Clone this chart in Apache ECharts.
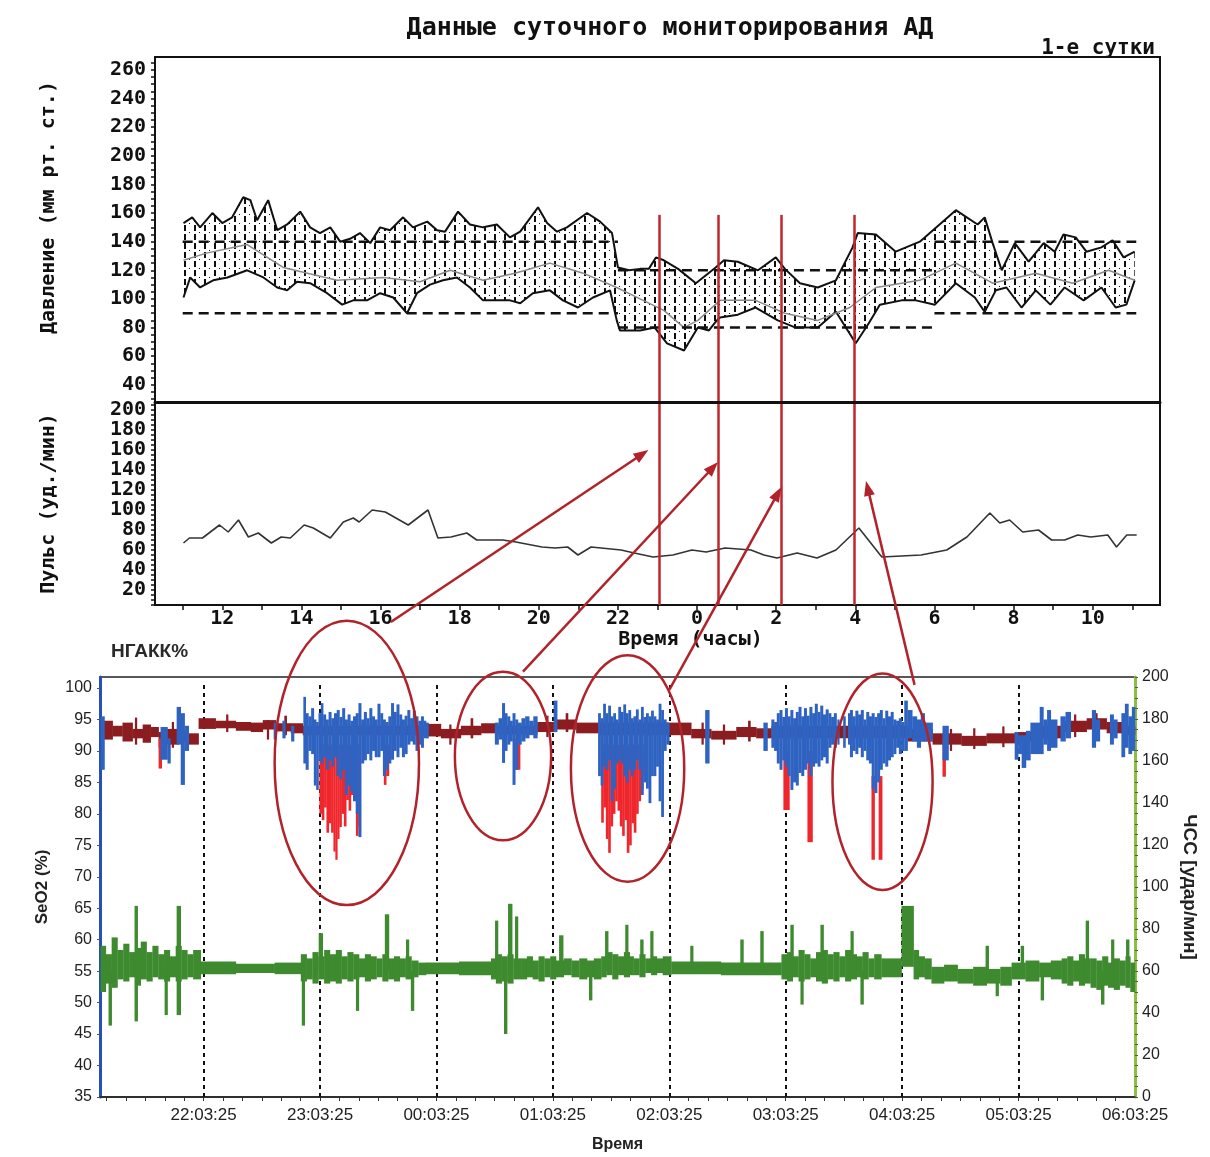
<!DOCTYPE html>
<html><head><meta charset="utf-8">
<script src="https://cdn.jsdelivr.net/npm/echarts@6/dist/echarts.min.js"></script>
<style>html,body{margin:0;padding:0;background:#fff}#c{width:1210px;height:1157px}</style>
</head><body><div id="c"></div>
<script>
// ---------------- texts ----------------
const chartTitle = 'Данные суточного мониторирования АД';
const dayLabel = '1-е сутки';
const pressureAxisName = 'Давление (мм рт. ст.)';
const pulseAxisName = 'Пульс (уд./мин)';
const hoursAxisName = 'Время (часы)';
const spo2Label = 'НГАКК%';
const spo2AxisName = 'SeO2 (%)';
const hrAxisName = 'ЧСС [удар/мин]';
const timeAxisName = 'Время';

// ---------------- tick labels ----------------
const hourTicks = [12,14,16,18,20,22,24,26,28,30,32,34];
const pressureTicks = [40,60,80,100,120,140,160,180,200,220,240,260];
const pulseTicks = [20,40,60,80,100,120,140,160,180,200];
const spo2Ticks = [35,40,45,50,55,60,65,70,75,80,85,90,95,100];
const hrTicks = [0,20,40,60,80,100,120,140,160,180,200];
const bottomTickLabels = ['22:03:25','23:03:25','00:03:25','01:03:25','02:03:25','03:03:25','04:03:25','05:03:25','06:03:25'];
const bottomRange = ['21:10:00','06:03:25'];

// ---------------- ABPM (top), time in hours from midnight of day 1 ----------------
const systolic = [[11.02,153],[11.24,157],[11.44,150],[11.75,160],[12.00,153],[12.25,157],[12.53,171],[12.71,169],[12.88,155],[13.16,169],[13.39,148],[13.64,152],[13.97,161],[14.22,150],[14.47,146],[14.73,150],[14.98,140],[15.23,142],[15.48,146],[15.74,139],[15.99,150],[16.24,148],[16.57,157],[16.82,150],[17.18,154],[17.43,148],[17.63,147],[17.96,161],[18.26,152],[18.59,150],[18.94,152],[19.27,143],[19.53,147],[19.98,164],[20.21,153],[20.46,147],[20.71,150],[21.22,160],[21.55,154],[21.85,146],[22.00,122],[22.28,120],[22.56,121],[22.78,121],[22.96,129],[23.16,127],[23.52,121],[23.97,111],[24.47,122],[24.68,127],[25.03,126],[25.54,120],[25.99,129],[26.22,121],[26.60,111],[27.05,108],[27.51,113],[27.93,136],[28.06,146],[28.52,145],[29.02,133],[29.63,140],[30.54,162],[31.09,152],[31.27,157],[31.47,139],[31.70,120],[32.03,139],[32.38,126],[32.76,139],[33.04,133],[33.26,145],[33.57,143],[33.84,133],[34.22,136],[34.50,141],[34.78,129],[35.06,133]];
const diastolic = [[11.02,101],[11.19,115],[11.44,108],[11.77,113],[12.13,115],[12.63,120],[13.04,115],[13.39,108],[13.64,106],[13.89,112],[14.22,111],[14.65,104],[15.03,96],[15.31,99],[15.66,99],[15.99,104],[16.32,101],[16.67,90],[16.92,104],[17.25,110],[17.58,113],[17.93,115],[18.26,108],[18.59,99],[18.94,99],[19.27,99],[19.53,97],[19.85,104],[20.28,106],[20.61,99],[20.99,94],[21.37,101],[21.80,106],[21.97,85],[22.05,78],[22.56,78],[22.93,80],[23.24,69],[23.67,64],[24.02,80],[24.30,78],[24.47,84],[24.58,87],[25.03,89],[25.48,94],[26.04,85],[26.49,80],[27.05,80],[27.51,91],[28.01,69],[28.34,83],[28.62,96],[29.17,99],[29.53,99],[30.01,96],[30.54,111],[31.02,101],[31.27,91],[31.55,106],[31.82,108],[32.20,94],[32.56,106],[32.93,96],[33.29,108],[33.77,99],[34.22,108],[34.58,94],[34.85,96],[35.06,113]];
const meanPressure = [[11.02,127],[11.6,132],[12.63,138],[13.54,122],[14.9,113],[16.07,115],[17.0,112],[17.76,120],[18.59,113],[19.4,118],[20.28,125],[21.12,118],[21.97,108],[22.56,100],[23.16,92],[23.67,80],[24.02,85],[24.58,99],[25.48,99],[26.22,90],[27.05,85],[27.86,94],[28.52,108],[29.63,113],[30.54,125],[31.47,111],[32.56,118],[33.49,111],[34.40,120],[35.06,113]];
const bpLimits = [[11,22,140,90],[22,30,120,80],[30,35.1,140,90]]; // from, to, upper, lower
const pulse = [[11.02,67],[11.17,72],[11.50,72],[11.93,85],[12.15,78],[12.41,90],[12.66,73],[12.91,77],[13.24,67],[13.49,73],[13.72,72],[14.07,85],[14.30,82],[14.73,72],[15.06,88],[15.31,92],[15.46,88],[15.79,100],[16.12,98],[16.70,85],[17.20,100],[17.45,72],[17.78,73],[18.18,77],[18.43,70],[19.09,70],[19.42,68],[20.08,63],[20.41,62],[20.73,63],[20.99,55],[21.32,63],[22.08,60],[22.41,57],[22.89,53],[23.39,55],[23.87,60],[24.23,58],[24.71,62],[25.36,60],[25.69,55],[26.02,52],[26.53,57],[27.03,52],[27.51,60],[28.09,82],[28.67,53],[29.66,55],[30.31,60],[30.82,73],[31.40,97],[31.65,87],[31.90,90],[32.23,78],[32.63,80],[32.96,70],[33.29,70],[33.62,75],[33.95,73],[34.38,75],[34.60,63],[34.86,75],[35.11,75]];
const redMarkerHours = [23.04, 24.53, 26.12, 27.98];
const redMarkerTop = 158.7;

// ---------------- Polysomnography (bottom), minutes since 21:00 : [from, to, low, high] ----------------
const spo2Base = [[11.8,16.5,91.8,94.8],[16.5,21.6,92.3,94.0],[21.6,26.8,91.5,94.5],[26.8,32.0,92.0,93.5],[32.0,36.1,91.3,94.2],[36.1,40.2,92.2,93.8],[40.2,43.8,90.5,93.0],[43.8,50.5,91.0,93.5],[50.5,55.7,91.5,93.2],[55.7,60.8,91.0,92.8],[60.8,69.6,93.5,95.2],[69.6,80.0,93.6,94.8],[80.0,87.7,93.2,94.6],[87.7,93.9,93.0,94.5],[93.9,100.6,93.4,94.9],[100.6,108.3,93.1,94.4],[108.3,114.5,92.8,94.4],[114.5,178.5,92.5,94.0],[178.5,185.7,92.3,94.3],[185.7,196.0,92.0,93.5],[196.0,206.4,92.5,94.0],[206.4,213.6,92.8,94.4],[213.6,235.3,92.6,94.0],[235.3,245.1,93.0,94.6],[245.1,255.4,93.4,95.0],[255.4,267.2,92.8,94.5],[267.2,302.3,92.5,94.5],[302.3,314.7,92.5,94.5],[314.7,325.0,92.0,93.5],[325.0,337.9,91.8,93.2],[337.9,348.2,92.2,93.8],[348.2,356.0,92.0,93.6],[356.0,426.2,92.0,94.0],[426.2,439.1,91.5,93.5],[439.1,454.0,91.0,92.8],[454.0,466.9,90.8,92.4],[466.9,481.4,91.2,92.8],[481.4,494.3,91.5,93.0],[494.3,505.6,92.0,94.0],[505.6,518.5,93.0,94.8],[518.5,528.8,93.4,95.2],[528.8,539.2,92.8,94.6],[539.2,543.4,92.5,94.0],
  [28,29,91,95.3],[47,48,90.5,94.6],[75,76,93,95.8],[96,97,91.8,94.9],[105,106.2,92.5,95.6],[190,191,91,94.2],[201,202.2,92,95.2],[240,241,92.2,95.6],[250,251.2,93,96],[320,321,91,94.5],[331,332,91,94.2],[344,345.2,91.5,94.8],[448,449,90,93.5],[460,461,90.3,93.6],[475,476,90.6,93.9],[512,513,92.2,95.8],[523,524,92.8,96]];
const spo2Red = [[40.2,41.8,87.2,92],
  [123.1,124.3,80.0,91],[124.3,125.5,79.0,91],[125.5,126.7,81.0,91],[126.7,127.9,77.0,91],[127.9,129.1,78.5,91],[129.1,130.3,77.0,91],[130.3,131.3,74.0,91],[131.3,132.3,72.7,91],[132.3,133.3,76.0,91],[133.3,134.5,77.9,91],[134.5,135.7,80.0,91],[135.7,136.9,78.0,91],[136.9,138.1,82.2,91],[138.1,139.3,80.5,91],[139.3,140.5,83.0,91],[141.9,143.1,76.5,91],[143.1,144.3,78.0,91],[156.3,157.5,84.6,91],[157.5,158.9,86.0,91],
  [223.4,226.5,87.0,92],
  [268.3,269.5,78.6,91],[269.5,270.7,81.0,91],[270.7,271.9,76.0,91],[271.9,273.1,73.8,91],[273.1,274.3,78.0,91],[274.3,275.5,80.0,91],[275.5,276.7,82.0,91],[276.7,277.9,80.5,91],[277.9,279.1,78.0,91],[279.1,280.3,76.5,91],[280.3,281.5,79.0,91],[281.5,282.7,73.8,91],[282.7,283.9,75.0,91],[283.9,285.1,78.5,91],[285.1,286.3,77.0,91],[286.3,287.5,80.0,91],[287.5,288.7,82.0,91],[288.7,290.0,84.0,91],[290.0,291.3,86.0,91],
  [362.2,365.3,80.6,90],[374.6,377.2,75.5,90],[407.6,409.2,72.7,86],[411.3,413.1,72.7,86],[444.2,445.8,85.9,92]];
const spo2Blue = [[10.3,12.3,87.0,95.5],[41.2,44.8,88.6,93.8],[44.8,46.3,88.0,92],[49.5,51.6,91.0,97.0],[51.6,53.6,84.6,96.0],[53.6,55.7,90.0,94.0],[99.5,100.8,91.8,94.5],[104,105.5,92.0,94.8],[108.5,110,91.5,94.0],
  [114.8,116.0,88.0,98.6],[116.0,117.4,87.0,96.0],[117.4,118.8,90.0,95.5],[118.8,120.2,89.5,96.8],[120.2,121.4,84.5,95.0],[121.4,122.6,83.8,94.6],[122.6,123.8,88.5,96.0],[123.8,125.0,88.0,97.6],[125.0,126.4,89.0,95.8],[126.4,127.8,87.0,95.0],[127.8,129.2,88.5,96.2],[129.2,130.6,87.5,95.2],[130.6,132.0,89.0,96.0],[132.0,133.4,86.0,96.5],[133.4,134.8,85.5,95.4],[134.8,136.2,87.0,96.8],[136.2,137.6,83.0,95.0],[137.6,139.0,84.5,95.8],[139.0,140.4,83.5,94.8],[140.4,141.8,82.0,95.5],[141.8,143.2,80.0,96.0],[143.2,144.6,76.3,97.6],[144.6,146.0,88.0,95.0],[146.0,147.4,88.5,96.2],[147.4,148.8,89.5,95.2],[148.8,150.2,88.5,96.8],[150.2,151.6,90.0,95.5],[151.6,153.0,89.0,95.0],[153.0,154.4,89.0,97.5],[154.4,155.8,90.0,96.0],[155.8,157.2,86.0,95.0],[157.2,158.6,87.0,94.6],[158.6,160.0,88.0,95.5],[160.0,161.4,88.6,97.6],[161.4,162.8,90.0,96.2],[162.8,164.2,89.0,97.4],[164.2,165.6,90.5,95.8],[165.6,167.0,89.0,95.0],[167.0,168.4,89.5,95.6],[168.4,169.8,91.0,96.5],[169.8,171.2,91.5,95.2],[171.2,172.6,91.0,96.4],[172.6,174.0,90.0,95.5],[174.0,175.4,91.0,94.8],[175.4,176.8,90.5,95.5],[176.8,178.0,92.0,94.8],[178.0,179.3,92.0,94.5],
  [213.5,215.4,91.0,94.5],[215.4,217.2,91.8,95.2],[217.2,218.6,88.1,97.6],[218.6,219.9,90.0,96.0],[219.9,221.3,91.0,95.5],[221.3,222.6,91.5,94.8],[222.6,224.0,84.6,96.0],[224.0,225.4,87.0,95.0],[225.4,227.2,91.0,94.5],[227.2,229.1,91.5,95.2],[229.1,231.2,92.0,95.5],[231.2,233.3,92.5,94.8],[233.3,235.4,92.0,95.5],[243.8,245.6,93.0,98.0],
  [266.7,268.0,86.0,96.0],[268.0,269.3,84.5,95.2],[269.3,270.6,87.5,97.5],[270.6,271.9,87.0,96.0],[271.9,273.2,88.5,97.2],[273.2,274.5,82.0,95.5],[274.5,275.8,84.0,96.0],[275.8,277.1,88.0,95.0],[277.1,278.4,88.5,97.0],[278.4,279.7,88.0,96.2],[279.7,281.0,86.0,97.4],[281.0,282.3,85.0,96.0],[282.3,283.6,87.0,96.5],[283.6,284.9,86.0,95.2],[284.9,286.2,87.0,95.5],[286.2,287.5,88.5,96.6],[287.5,288.8,87.0,95.0],[288.8,290.1,83.0,97.0],[290.1,291.4,85.0,95.4],[291.4,292.7,84.0,96.0],[292.7,294.0,81.7,95.5],[294.0,295.3,86.0,96.4],[295.3,296.6,86.0,95.5],[296.6,297.9,87.5,95.0],[297.9,299.2,82.0,97.5],[299.2,300.5,79.5,96.5],[300.5,301.9,90.0,95.0],[301.9,303.4,91.0,94.5],
  [321.9,324.0,88.0,96.5],[351.9,354.0,90.0,94.5],
  [356.0,357.4,90.5,95.0],[357.4,358.8,90.0,94.6],[358.8,360.2,88.0,96.0],[360.2,361.6,87.0,96.5],[361.6,363.0,88.5,95.4],[363.0,364.4,87.5,96.8],[364.4,365.8,86.0,95.5],[365.8,367.2,83.8,96.5],[367.2,368.6,85.0,95.2],[368.6,370.0,84.5,96.2],[370.0,371.4,86.5,97.0],[371.4,372.8,86.0,95.5],[372.8,374.2,87.0,96.8],[374.2,375.6,88.0,95.6],[375.6,377.0,86.0,97.0],[377.0,378.4,87.5,96.0],[378.4,379.8,88.0,97.5],[379.8,381.2,87.5,96.2],[381.2,382.6,88.5,97.2],[382.6,384.0,89.0,95.8],[384.0,385.4,88.0,96.6],[385.4,386.8,90.5,96.0],[386.8,388.2,91.0,95.4],[388.2,389.6,90.5,96.0],[390.0,391.0,91.0,95.0],[393.0,394.2,90.5,95.5],[395.5,396.5,91.0,96.0],
  [396.5,397.9,89.0,96.5],[397.9,399.3,90.0,95.5],[399.3,400.7,89.5,96.4],[400.7,402.1,90.5,95.8],[402.1,403.5,89.0,96.5],[403.5,404.9,90.0,95.0],[404.9,406.3,88.5,96.2],[406.3,407.7,88.0,95.5],[407.7,409.1,84.0,96.0],[409.1,410.5,83.3,95.4],[410.5,411.9,85.0,96.0],[411.9,413.3,87.0,96.5],[413.3,414.7,88.0,95.2],[414.7,416.1,87.5,96.4],[416.1,417.5,88.5,95.5],[417.5,418.9,89.0,96.2],[418.9,420.3,89.5,95.0],[420.3,421.7,90.5,94.8],[421.7,423.1,89.5,95.2],[423.1,424.5,90.0,94.6],[424.5,426.2,90.0,98.0],
  [426.2,428.6,92.0,96.5],[428.6,431.0,91.5,95.5],[431.0,433.0,90.5,95.0],[433.0,435.0,91.5,96.0],[435.0,439.1,91.5,94.5],[444.2,447.3,88.5,94.0],
  [481.4,483.2,88.6,93.0],[483.2,485.0,89.5,92.5],[485.0,487.2,87.3,92.5],[487.2,489.5,88.5,93.2],[489.5,494.3,89.5,94.5],
  [494.3,496.2,89.5,97.0],[496.2,498.1,91.0,95.0],[498.1,500.0,90.0,96.5],[500.0,503.3,90.5,95.0],[505.0,507.6,91.5,95.5],[507.6,510.3,92.0,96.2],[521.2,523.2,90.5,96.5],[523.2,525.3,91.5,95.0],[530.5,532.4,91.0,95.8],[532.4,534.3,92.0,95.0],[536.4,538.2,89.0,96.0],[538.2,540.0,90.5,97.5],[540.0,541.8,89.5,95.5],[541.8,543.4,90.0,97.0]];
const heartRate = [[10.3,13,50,72],[13,16,54,68],[16,19,52,76],[19,22,56,70],[22,25,55,73],[25,28,57,69],[28,31,53,71],[31,34,56,74],[34,37,55,69],[37,40,57,72],[40,43,56,68],[43,46,55,70],[46,49,57,67],[49,52,55,72],[52,55,56,70],[55,58,57,68],[58,61.9,56,70],
  [14.4,16,34,60],[27.8,29.4,36,91],[43.3,44.8,39,60],[49.5,51.6,39,91],
  [61.9,80,58.5,64.5],[80,100,59,63.5],[100,113.5,58.5,64],
  [113.5,116.5,55,68],[116.5,119.5,56,66],[119.5,122.5,54,69],[122.5,125.5,56,67],[125.5,128.5,54,70],[128.5,131.5,55,68],[131.5,134.5,54,70],[134.5,137.5,56,67],[137.5,140.5,55,69],[140.5,143.5,56,68],[143.5,146.5,57,66],[146.5,149.5,55,68],[149.5,152.5,56,67],[152.5,155.5,57,66],[155.5,158.5,55,68],[158.5,161.5,56,66],[161.5,164.5,55,67],[164.5,167.5,57,66],[167.5,170.5,56,67],[170.5,174,57,65],[174,178,58,64],
  [114,115.5,34,62],[122.7,124.8,60,78],[141.9,143.4,41,60],[156.8,158.9,60,87],[167.7,169.2,60,75],[170.2,171.8,41,60],
  [178,195,58.5,64],[195,211.5,58,64.5],
  [211.5,214,56,66],[214,217,54,68],[217,220,55,67],[220,223,54,68],[223,227,56,66],
  [213.6,215.1,60,84],[218.2,219.8,30,65],[220.3,222.4,60,92],[223.9,225.4,60,86],
  [227,230,56,66],[230,233,57,67],[233,236,56,65],[236,239,55,67],[239,242,57,66],[242,245,56,67],
  [245,249,57,65],[249,253,58,66],[253,257,57,65],[257,261,56,66],[261,264.5,57,65],[264.5,268.3,56,66],
  [246.6,248.7,60,77],[262,263.6,46,60],
  [268.3,271,57,67],[271,274,58,69],[274,277,56,68],[277,280,58,67],[280,283,57,69],[283,285,58,67],
  [285,288,58,66],[288,291,57,68],[291,294,59,66],[294,297,58,67],[297,300,59,66],[300,304.4,58,67],
  [270.3,271.9,60,79],[280.7,282.2,60,82],[288.4,290,60,75],[293.6,295.1,60,79],
  [304.4,330,58.5,64.5],[330,361.2,58,64],[314.2,315.7,60,72],[340,341.6,60,75],[350.3,351.9,60,79],
  [361.2,364,56,68],[364,367,55,69],[367,370,57,67],[370,373,55,70],[373,376,56,68],[376,379,57,66],[379,382,55,69],[382,385,54,70],[385,388,56,68],[388,391,55,69],[391,394,57,67],[394,397,55,70],[397,400,56,68],[400,403,57,67],[403,406,56,69],[406,409,57,66],[409,412.7,56,68],
  [365.8,367.4,60,82],[371,372.5,44,60],[381.3,382.9,60,82],[396.8,398.3,60,79],[401.9,403.5,44,60],
  [412.7,423.1,57,66],[423.1,429.3,62,91],[429.3,432,56,70],[432,435,57,67],[435,438.5,56,66],
  [438.5,445,54,62],[445,452,55,63],[452,460,54,61],[460,467,53,62],[467,474,54,61],[474,479.8,53,62],[466.4,468,60,72],[471.6,473.1,48,60],
  [479.8,487,56,64],[487,494,55,65],[494,500,57,64],[500,505.6,56,65],[484.5,486.1,60,72],[494.8,496.4,46,60],
  [505.6,508.5,54,66],[508.5,511.5,53,67],[511.5,514.5,55,65],[514.5,517.5,53,68],[517.5,520.5,54,66],[520.5,523.5,52,66],[523.5,526.5,51,65],[526.5,529.5,53,67],[529.5,532.5,52,64],[532.5,535.5,51,66],[535.5,538.5,53,65],[538.5,541,52,67],[541,543.4,50,64],
  [518,519.6,60,84],[525.9,527.5,44,60],[531.1,532.6,60,75],[538.8,540.4,60,75]];

// annotations: ellipses [centre minute, centre SpO2, half-width minutes, half-height SpO2]
const ellipses = [[137.2,88.1,37.2,22.6],[217.7,89.2,24.8,13.4],[281.9,87.2,29.2,18.0],[413.3,85.1,25.8,17.2]];
// arrows: start on bottom chart [minute, SpO2], end on pulse panel [hour, bpm]
const arrowStarts = [[159.9,110.5],[228.0,102.6],[303.4,99.7],[429.8,100.5]];
const arrowEnds = [[22.77,160],[24.53,148],[26.13,123],[28.27,129]];

// ---------------- helpers ----------------
function toMin(label) {
  const p = label.split(':').map(Number);
  const h = p[0] < 12 ? p[0] + 24 : p[0];
  return (h - 21) * 60 + p[1] + (p[2] || 0) / 60;
}
const bottomTickMinutes = bottomTickLabels.map(toMin);
function range(a, b, s) { const r = []; for (let v = a; v <= b + 1e-9; v += s) r.push(+v.toFixed(3)); return r; }

function makeHatch() {
  const c = document.createElement('canvas');
  c.width = 10; c.height = 9;
  const g = c.getContext('2d');
  g.fillStyle = '#ffffff'; g.fillRect(0, 0, 10, 9);
  g.fillStyle = '#0d0d0d';
  g.fillRect(4, 0, 2, 6);
  g.fillRect(9, 7, 1, 1);
  return c;
}
const hatchPattern = { image: makeHatch(), repeat: 'repeat' };

const monoFont = "'DejaVu Sans Mono', monospace";
const sansFont = "'Liberation Sans', Arial, sans-serif";
const topText = { fontFamily: monoFont, fontWeight: 'bold', fontSize: 20, color: '#111' };
const botText = { fontFamily: sansFont, fontSize: 16, color: '#222' };

function blockSeries(data, yAxisIndex, color, z) {
  return {
    type: 'custom', xAxisIndex: 2, yAxisIndex: yAxisIndex, z: z, silent: true,
    data: data, encode: { x: [0, 1], y: [2, 3] },
    renderItem: function (params, api) {
      const a = api.coord([api.value(0), api.value(3)]);
      const b = api.coord([api.value(1), api.value(2)]);
      let x = a[0], w = b[0] - a[0];
      if (w < 1.8) { x -= (1.8 - w) / 2; w = 1.8; }
      return { type: 'rect', shape: { x: x, y: a[1], width: w + 0.3, height: Math.max(b[1] - a[1], 1.5) }, style: { fill: color } };
    }
  };
}

const limitSeries = [];
bpLimits.forEach(function (l) {
  [l[2], l[3]].forEach(function (v) {
    limitSeries.push({ type: 'line', xAxisIndex: 0, yAxisIndex: 0, z: 5, silent: true, symbol: 'none',
      data: [[l[0], v], [l[1], v]], lineStyle: { color: '#111', width: 2.5, type: [10, 6] } });
  });
});

const redMarkLine = function (top, bottom) {
  return { silent: true, symbol: ['none', 'none'], z: 10, label: { show: false },
    lineStyle: { color: '#c0262c', width: 2.5, type: 'solid' },
    data: redMarkerHours.map(function (t) { return [{ coord: [t, top] }, { coord: [t, bottom] }]; }) };
};

const chart = echarts.init(document.getElementById('c'), null, { renderer: 'canvas' });
const option = {
  animation: false,
  backgroundColor: '#fff',
  title: [
    { text: chartTitle, left: 665, top: 11, textAlign: 'center', textStyle: { fontFamily: monoFont, fontWeight: 'bold', fontSize: 25, color: '#111' } },
    { text: dayLabel, right: 50, top: 33, textStyle: { fontFamily: monoFont, fontWeight: 'bold', fontSize: 21, color: '#111' } },
    { text: spo2Label, left: 106, top: 637, textStyle: { fontFamily: sansFont, fontWeight: 'bold', fontSize: 19, color: '#2a2a2a' } }
  ],
  grid: [
    { left: 155, top: 57, width: 1005, height: 345, show: true, borderColor: '#111', borderWidth: 2, backgroundColor: 'transparent', outerBoundsMode: 'none' },
    { left: 155, top: 402, width: 1005, height: 203, show: true, borderColor: '#111', borderWidth: 2, backgroundColor: 'transparent', outerBoundsMode: 'none' },
    { left: 100, top: 677, width: 1035, height: 420, show: true, borderColor: '#222', borderWidth: 1.5, backgroundColor: 'transparent', outerBoundsMode: 'none' }
  ],
  xAxis: [
    { gridIndex: 0, type: 'value', min: 10.3, max: 35.7, z: 20,
      axisLine: { show: true, lineStyle: { color: '#111', width: 3 } }, axisTick: { show: false }, axisLabel: { show: false }, splitLine: { show: false } },
    { gridIndex: 1, type: 'value', min: 10.3, max: 35.7,
      axisLine: { show: true, lineStyle: { color: '#111', width: 2 } },
      axisTick: { show: true, length: 5, customValues: range(11, 35, 1), lineStyle: { color: '#111', width: 1.5 } },
      axisLabel: Object.assign({ margin: 4, customValues: hourTicks, formatter: function (v) { return String(Math.round(v) % 24); } }, topText),
      splitLine: { show: false },
      name: hoursAxisName, nameLocation: 'middle', nameGap: 20,
      nameTextStyle: Object.assign({ padding: [0, 0, 0, 66] }, topText) },
    { gridIndex: 2, type: 'value', min: toMin(bottomRange[0]), max: toMin(bottomRange[1]),
      axisLine: { show: true, lineStyle: { color: '#222', width: 1.5 } },
      axisTick: { show: true, length: 4, customValues: range(bottomTickMinutes[0] - 50, bottomTickMinutes[8], 10), lineStyle: { color: '#333' } },
      axisLabel: Object.assign({}, botText, { fontSize: 17, margin: 10, customValues: bottomTickMinutes, formatter: function (v) {
        let best = 0; bottomTickMinutes.forEach(function (m, i) { if (Math.abs(m - v) < Math.abs(bottomTickMinutes[best] - v)) best = i; });
        return bottomTickLabels[best]; } }),
      splitLine: { show: false },
      name: timeAxisName, nameLocation: 'middle', nameGap: 40,
      nameTextStyle: { fontFamily: sansFont, fontWeight: 'bold', fontSize: 16, color: '#222' } }
  ],
  yAxis: [
    { gridIndex: 0, type: 'value', min: 28, max: 269,
      axisLine: { show: true, lineStyle: { color: '#111', width: 2 } },
      axisTick: { show: true, length: 4, customValues: range(30, 265, 5), lineStyle: { color: '#111', width: 1.5 } },
      axisLabel: Object.assign({ margin: 9, customValues: pressureTicks }, topText),
      splitLine: { show: false },
      name: pressureAxisName, nameLocation: 'middle', nameRotate: 90, nameGap: 96,
      nameTextStyle: Object.assign({ padding: [0, 0, 0, 44] }, topText) },
    { gridIndex: 1, type: 'value', min: 5, max: 208,
      axisLine: { show: true, lineStyle: { color: '#111', width: 2 } },
      axisTick: { show: true, length: 4, customValues: range(5, 205, 5), lineStyle: { color: '#111', width: 1.5 } },
      axisLabel: Object.assign({ margin: 9, customValues: pulseTicks }, topText),
      splitLine: { show: false },
      name: pulseAxisName, nameLocation: 'middle', nameRotate: 90, nameGap: 96,
      nameTextStyle: topText },
    { gridIndex: 2, type: 'value', min: 35, max: 101.75, position: 'left',
      axisLine: { show: true, lineStyle: { color: '#2450b8', width: 3 } },
      axisTick: { show: true, length: 3, customValues: spo2Ticks, lineStyle: { color: '#555' } },
      axisLabel: Object.assign({ margin: 8, customValues: spo2Ticks }, botText),
      splitLine: { show: false },
      name: spo2AxisName, nameLocation: 'middle', nameRotate: 90, nameGap: 49,
      nameTextStyle: { fontFamily: sansFont, fontWeight: 'bold', fontSize: 17, color: '#222' } },
    { gridIndex: 2, type: 'value', min: 0, max: 200, position: 'right',
      axisLine: { show: true, lineStyle: { color: '#8cbf3f', width: 3 } },
      axisTick: { show: true, length: 3, customValues: range(0, 200, 5), lineStyle: { color: '#555' } },
      axisLabel: Object.assign({ margin: 7, customValues: hrTicks }, botText),
      splitLine: { show: false },
      name: hrAxisName, nameLocation: 'middle', nameRotate: -90, nameGap: 36,
      nameTextStyle: { fontFamily: sansFont, fontWeight: 'bold', fontSize: 19, color: '#222' } }
  ],
  series: [
    { type: 'custom', xAxisIndex: 0, yAxisIndex: 0, z: 1, silent: true, data: [systolic[0]], encode: { x: 0, y: 1 },
      renderItem: function (params, api) {
        const pts = systolic.map(function (p) { return api.coord(p); })
          .concat(diastolic.slice().reverse().map(function (p) { return api.coord(p); }));
        return { type: 'polygon', shape: { points: pts }, style: { fill: hatchPattern } };
      } },
    { type: 'line', xAxisIndex: 0, yAxisIndex: 0, z: 3, silent: true, symbol: 'none', data: systolic,
      lineStyle: { color: '#111', width: 2 } },
    { type: 'line', xAxisIndex: 0, yAxisIndex: 0, z: 3, silent: true, symbol: 'none', data: diastolic,
      lineStyle: { color: '#111', width: 2 } },
    { type: 'line', xAxisIndex: 0, yAxisIndex: 0, z: 4, silent: true, symbol: 'none', data: meanPressure,
      lineStyle: { color: '#8a8a8a', width: 1.5 } }
  ].concat(limitSeries).concat([
    { type: 'line', xAxisIndex: 0, yAxisIndex: 0, z: 10, silent: true, symbol: 'none', data: [[redMarkerHours[0], 100]],
      lineStyle: { opacity: 0 }, markLine: redMarkLine(redMarkerTop, 28) },
    { type: 'line', xAxisIndex: 1, yAxisIndex: 1, z: 3, silent: true, symbol: 'none', data: pulse,
      lineStyle: { color: '#333', width: 1.6 } },
    { type: 'line', xAxisIndex: 1, yAxisIndex: 1, z: 10, silent: true, symbol: 'none', data: [[redMarkerHours[0], 100]],
      lineStyle: { opacity: 0 }, markLine: redMarkLine(208, 5) },
    { type: 'line', xAxisIndex: 2, yAxisIndex: 2, z: 1, silent: true, symbol: 'none', data: [[bottomTickMinutes[0], 50]],
      lineStyle: { opacity: 0 },
      markLine: { silent: true, symbol: ['none', 'none'], z: 1, label: { show: false },
        lineStyle: { color: '#111', width: 2, type: [4, 4] },
        data: bottomTickMinutes.slice(0, 8).map(function (m) { return [{ coord: [m, 35] }, { coord: [m, 100.8] }]; }) } },
    blockSeries(spo2Base, 2, '#8b1c1f', 3),
    blockSeries(spo2Red, 2, '#ef272c', 4),
    blockSeries(spo2Blue, 2, '#2f63c2', 5),
    blockSeries(heartRate, 3, '#3e8a2e', 6)
  ])
};
chart.setOption(option);

// ---------------- annotations placed through the axes ----------------
function pB(v) { return chart.convertToPixel({ xAxisIndex: 2, yAxisIndex: 2 }, v); }
function pP(v) { return chart.convertToPixel({ xAxisIndex: 1, yAxisIndex: 1 }, v); }
const annColor = '#b1232a';
const graphics = [];
ellipses.forEach(function (e) {
  const c = pB([e[0], e[1]]);
  const r = pB([e[0] + e[2], e[1] + e[3]]);
  graphics.push({ type: 'ellipse', z: 100, silent: true,
    shape: { cx: c[0], cy: c[1], rx: Math.abs(r[0] - c[0]), ry: Math.abs(r[1] - c[1]) },
    style: { fill: 'transparent', stroke: annColor, lineWidth: 2.5 } });
});
arrowStarts.forEach(function (s, i) {
  const a = pB(s), b = pP(arrowEnds[i]);
  const dx = b[0] - a[0], dy = b[1] - a[1], L = Math.sqrt(dx * dx + dy * dy);
  const ux = dx / L, uy = dy / L, nx = -uy, ny = ux, hl = 15, hw = 5.5;
  const bx = b[0] - ux * hl, by = b[1] - uy * hl;
  graphics.push({ type: 'line', z: 100, silent: true,
    shape: { x1: a[0], y1: a[1], x2: bx + ux * 2, y2: by + uy * 2 },
    style: { stroke: annColor, lineWidth: 2.5 } });
  graphics.push({ type: 'polygon', z: 100, silent: true,
    shape: { points: [[b[0], b[1]], [bx + nx * hw, by + ny * hw], [bx - nx * hw, by - ny * hw]] },
    style: { fill: annColor } });
});
chart.setOption({ graphic: graphics });
</script>
</body></html>
